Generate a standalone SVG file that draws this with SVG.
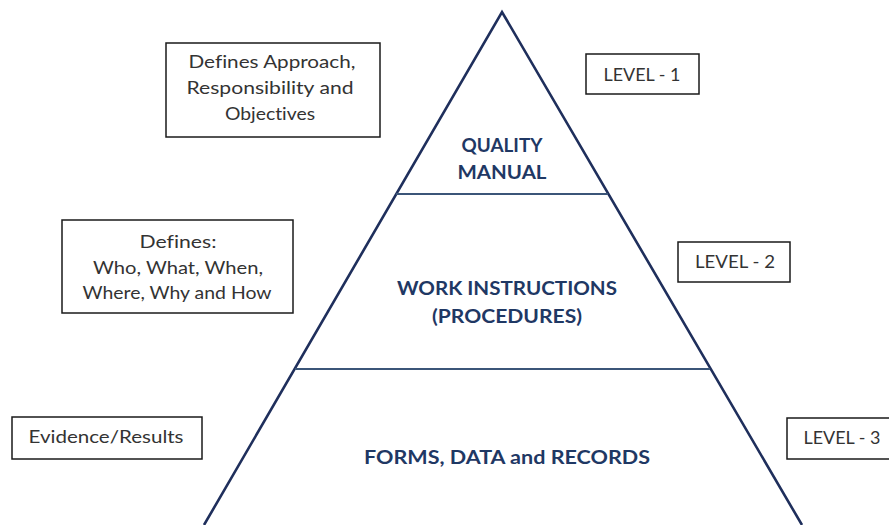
<svg xmlns="http://www.w3.org/2000/svg" width="889" height="525" viewBox="0 0 889 525">
<style>
.bx{fill:#fff;stroke:#1a1a1a;stroke-width:1.5}
.bt{font-family:Lato,"Open Sans","Liberation Sans",sans-serif;font-size:17px;fill:#333;text-anchor:middle;font-variant-ligatures:none}
.pt{font-family:Lato,"Open Sans","Liberation Sans",sans-serif;font-size:19px;font-weight:bold;fill:#1f3864;text-anchor:middle;font-variant-ligatures:none}
.edge{fill:none;stroke:#1f2f5c;stroke-width:2.6;stroke-linejoin:miter}
.div{stroke:#3b5578;stroke-width:2}
</style>
<rect width="889" height="525" fill="#fff"/>
<g id="pyramid">
<path class="edge" d="M204,525 L502,12 L802,525"/>
<line class="div" x1="396" y1="194" x2="608" y2="194"/>
<line class="div" x1="295" y1="369" x2="710" y2="369"/>
</g>
<g id="level1-band">
<text class="pt" x="502" y="152" textLength="81" lengthAdjust="spacingAndGlyphs">QUALITY</text>
<text class="pt" x="502" y="179" textLength="89" lengthAdjust="spacingAndGlyphs">MANUAL</text>
</g>
<g id="level2-band">
<text class="pt" x="507" y="295" textLength="220" lengthAdjust="spacingAndGlyphs">WORK INSTRUCTIONS</text>
<text class="pt" x="507" y="323" textLength="150" lengthAdjust="spacingAndGlyphs">(PROCEDURES)</text>
</g>
<g id="level3-band">
<text class="pt" x="507" y="464" textLength="286" lengthAdjust="spacingAndGlyphs">FORMS, DATA and RECORDS</text>
</g>
<g id="desc1">
<rect class="bx" x="166" y="43" width="214" height="94"/>
<text class="bt" x="272" y="68" textLength="167" lengthAdjust="spacingAndGlyphs">Defines Approach,</text>
<text class="bt" x="270" y="94" textLength="167" lengthAdjust="spacingAndGlyphs">Responsibility and</text>
<text class="bt" x="270" y="120" textLength="90" lengthAdjust="spacingAndGlyphs">Objectives</text>
</g>
<g id="desc2">
<rect class="bx" x="62" y="220" width="231" height="93"/>
<text class="bt" x="178" y="248" textLength="77" lengthAdjust="spacingAndGlyphs">Defines:</text>
<text class="bt" x="178" y="274" textLength="170" lengthAdjust="spacingAndGlyphs">Who, What, When,</text>
<text class="bt" x="177" y="299" textLength="189" lengthAdjust="spacingAndGlyphs">Where, Why and How</text>
</g>
<g id="desc3">
<rect class="bx" x="12" y="417" width="190" height="42"/>
<text class="bt" x="106" y="443" textLength="155" lengthAdjust="spacingAndGlyphs">Evidence/Results</text>
</g>
<g id="lvl1">
<rect class="bx" x="586" y="54" width="113" height="40"/>
<text class="bt" x="642" y="81" textLength="77" lengthAdjust="spacingAndGlyphs">LEVEL - 1</text>
</g>
<g id="lvl2">
<rect class="bx" x="678" y="242" width="112" height="40"/>
<text class="bt" x="735" y="268" textLength="80" lengthAdjust="spacingAndGlyphs">LEVEL - 2</text>
</g>
<g id="lvl3">
<rect class="bx" x="787" y="418" width="120" height="41"/>
<text class="bt" x="842" y="444" textLength="77" lengthAdjust="spacingAndGlyphs">LEVEL - 3</text>
</g>
<g id="connectors"/>
</svg>
